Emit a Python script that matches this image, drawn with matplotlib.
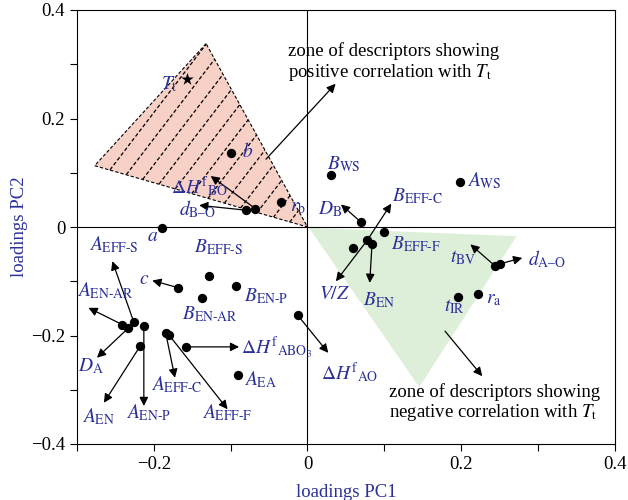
import matplotlib
matplotlib.use('Agg')
import matplotlib.pyplot as plt
from matplotlib.patches import Polygon

plt.rcParams['font.family'] = 'serif'
plt.rcParams['font.serif'] = ['Liberation Serif', 'DejaVu Serif']
plt.rcParams['mathtext.fontset'] = 'stix'

blue = '#2a2f9a'

# Loadings of the descriptors (PC1, PC2)
dot_names = ['b', 'dBO', 'HBO', 'rb', 'a', 'BWS', 'AWS', 'DB', 'BEFFF', 'BEFFC',
             'BEN', 'x1', 'tBV', 'dAO', 'tIR', 'ra', 'HAO', 'c', 'BEFFS', 'BENAR',
             'BENP', 'AENAR', 'DA', 'AEFFS', 'AENP', 'AEN', 'AEFFC', 'AEFFF',
             'HABO3', 'AEA']
pc1 = [-0.0995, -0.080, -0.068, -0.035, -0.189, 0.0305, 0.199, 0.0696, 0.099, 0.078,
       0.084, 0.0587, 0.2435, 0.250, 0.1965, 0.2225, -0.0125, -0.168, -0.128, -0.137,
       -0.093, -0.241, -0.233, -0.226, -0.213, -0.218, -0.1846, -0.180,
       -0.1586, -0.090]
pc2 = [0.137, 0.031, 0.034, 0.047, -0.0015, 0.095, 0.083, 0.009, -0.010, -0.024,
       -0.031, -0.0396, -0.071, -0.068, -0.129, -0.124, -0.163, -0.112, -0.091, -0.1305,
       -0.109, -0.180, -0.186, -0.1755, -0.183, -0.220, -0.195, -0.1995,
       -0.221, -0.273]

# transition temperature
tt_pc1 = -0.157
tt_pc2 = 0.272

# arrows: start descriptor and end point
arrow_from = ['HBO', 'dBO', 'DB', 'BEFFC', 'BEFFC', 'BEN', 'tBV', 'dAO', 'HAO', 'c',
              'AENAR', 'AEFFS', 'DA', 'AEN', 'AENP', 'AEFFC', 'AEFFF', 'HABO3']
arrow_x = [-0.126, -0.141, 0.0435, 0.109, 0.037, 0.081, 0.212, 0.2795, 0.027, -0.202,
           -0.285, -0.254, -0.274, -0.265, -0.213, -0.1725, -0.104, -0.089]
arrow_y = [0.094, 0.040, 0.0415, 0.043, -0.100, -0.103, -0.032, -0.057, -0.232, -0.0986,
           -0.149, -0.063, -0.241, -0.324, -0.330, -0.278, -0.336, -0.221]

# labels
label_text = [r'$T_{\rm t}$', r'$b$', r'$\Delta H^{\rm f}{}_{\rm BO}$', r'$d_{\text{B–O}}$',
              r'$r_{\rm b}$', r'$a$', r'$B_{\rm WS}$', r'$A_{\rm WS}$', r'$D_{\rm B}$',
              r'$B_{\text{EFF-C}}$', r'$B_{\text{EFF-F}}$', r'$V/Z$', r'$B_{\rm EN}$',
              r'$t_{\rm BV}$', r'$d_{\text{A–O}}$', r'$t_{\rm IR}$', r'$r_{\rm a}$',
              r'$\Delta H^{\rm f}{}_{\rm AO}$', r'$A_{\text{EFF-S}}$', r'$B_{\text{EFF-S}}$',
              r'$c$', r'$B_{\text{EN-P}}$', r'$B_{\text{EN-AR}}$', r'$A_{\text{EN-AR}}$',
              r'$D_{\rm A}$', r'$A_{\rm EN}$', r'$A_{\text{EN-P}}$', r'$A_{\text{EFF-C}}$',
              r'$A_{\text{EFF-F}}$', r'$\Delta H^{\rm f}{}_{\rm ABO_3}$', r'$A_{\rm EA}$']
label_x = [-0.180, -0.0855, -0.141, -0.1425, -0.012, -0.202, 0.0255, 0.208, 0.0296,
           0.110, 0.109, 0.0348, 0.093, 0.202, 0.287, 0.192, 0.2326, 0.0175, -0.2846,
           -0.148, -0.213, -0.0825, -0.163, -0.2999, -0.282, -0.2716, -0.2075, -0.1705,
           -0.104, -0.087, -0.0825]
label_y = [0.264, 0.140, 0.075, 0.032, 0.036, -0.017, 0.115, 0.085, 0.032, 0.057,
           -0.032, -0.1244, -0.134, -0.057, -0.060, -0.146, -0.134, -0.269, -0.032,
           -0.038, -0.097, -0.1275, -0.161, -0.118, -0.2565, -0.349, -0.342, -0.290,
           -0.3425, -0.2227, -0.281]
label_ha = ['center', 'left', 'center', 'center', 'center', 'center', 'left', 'left',
            'center', 'left', 'left', 'center', 'center', 'center', 'left', 'center',
            'left', 'left', 'left', 'left', 'center', 'left', 'left', 'left', 'center',
            'center', 'center', 'center', 'center', 'left', 'left']

# zones
pos_zone = [(-0.132, 0.338), (-0.277, 0.113), (0.0, 0.0)]
neg_zone = [(0.002, -0.0015), (0.272, -0.017), (0.1455, -0.295)]

fig = plt.figure(figsize=(6.28, 5.0), dpi=100)
ax = fig.add_axes([0.1226, 0.112, 0.8564, 0.868])

ax.set_xlim(-0.3, 0.4)
ax.set_ylim(-0.4, 0.4)

# shaded zones
pink = Polygon(pos_zone, closed=True, facecolor='#f7d0c6', edgecolor='none', zorder=1)
ax.add_patch(pink)
ax.add_patch(Polygon(pos_zone, closed=True, fill=False, edgecolor='k', lw=0.8,
                     linestyle=(0, (3, 1.8)), zorder=2))
green = Polygon(neg_zone, closed=True, facecolor='#deefd9', edgecolor='none', zorder=1)
ax.add_patch(green)

# dashed hatching inside the pink zone
slope = 1.85
step = 0.026
x0 = -0.6
while x0 < 0.2:
    ln, = ax.plot([x0, x0 + 0.5], [0, 0.5 * slope], color='k', lw=0.9,
                  linestyle=(0, (3, 1.8)), zorder=2)
    ln.set_clip_path(pink)
    x0 += step

ax.axhline(0, color='k', lw=0.8, zorder=2)
ax.axvline(0, color='k', lw=0.8, zorder=2)

# arrows
for name, tx, ty in zip(arrow_from, arrow_x, arrow_y):
    i = dot_names.index(name)
    ax.annotate('', xy=(tx, ty), xytext=(pc1[i], pc2[i]),
                arrowprops=dict(arrowstyle='-|>', color='k', lw=0.9,
                                mutation_scale=13, shrinkA=0, shrinkB=0),
                zorder=3)

ax.scatter(pc1, pc2, s=45, color='k', zorder=4, linewidths=0)
ax.scatter([tt_pc1], [tt_pc2], s=90, marker='*', color='k', zorder=4, linewidths=0)

for t, x, y, ha in zip(label_text, label_x, label_y, label_ha):
    ax.text(x, y, t, color=blue, fontsize=14, ha=ha, va='center', zorder=5)

# zone notes
ax.text(-0.025, 0.303, 'zone of descriptors showing\npositive correlation with $T_{\\rm t}$',
        fontsize=13.5, ha='left', va='center', linespacing=1.1, zorder=5)
ax.annotate('', xy=(0.0366, 0.264), xytext=(-0.054, 0.125),
            arrowprops=dict(arrowstyle='-|>', color='k', lw=0.9,
                            mutation_scale=13, shrinkA=0, shrinkB=0))
ax.text(0.1065, -0.3245, 'zone of descriptors showing\nnegative correlation with $T_{\\rm t}$',
        fontsize=13.5, ha='left', va='center', linespacing=1.1, zorder=5)
ax.annotate('', xy=(0.2275, -0.275), xytext=(0.179, -0.192),
            arrowprops=dict(arrowstyle='-|>', color='k', lw=0.9,
                            mutation_scale=13, shrinkA=0, shrinkB=0))

# axes styling
ax.set_xticks([-0.2, 0, 0.2, 0.4])
ax.set_xticklabels(['\u22120.2', '0', '0.2', '0.4'])
ax.set_yticks([-0.4, -0.2, 0, 0.2, 0.4])
ax.set_yticklabels(['\u22120.4', '\u22120.2', '0', '0.2', '0.4'])
ax.set_xticks([-0.3, -0.1, 0.1, 0.3], minor=True)
ax.set_yticks([-0.3, -0.1, 0.1, 0.3], minor=True)
ax.tick_params(which='both', direction='out', labelsize=13.5, width=0.8)
ax.tick_params(which='major', length=5)
ax.tick_params(which='minor', length=5)
for sp in ax.spines.values():
    sp.set_linewidth(0.8)

ax.set_xlabel('loadings PC1', color=blue, fontsize=13.5, labelpad=8)
ax.set_ylabel('loadings PC2', color=blue, fontsize=13.5, labelpad=2)

fig.savefig('out.png', dpi=100)
